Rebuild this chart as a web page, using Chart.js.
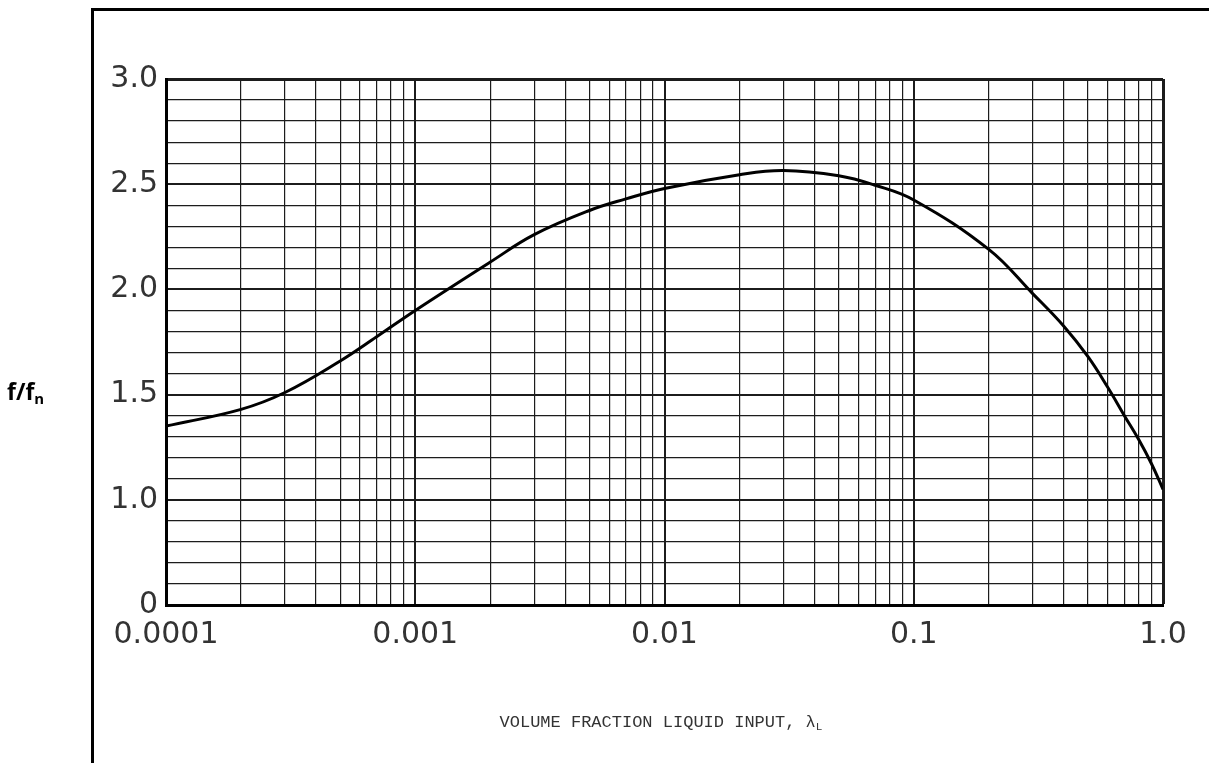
<!DOCTYPE html>
<html lang="en">
<head>
  <meta charset="UTF-8">
  <title>f/fn – volume fraction liquid input</title>
  <script src="https://cdn.jsdelivr.net/npm/chart.js"></script>
  <style>
    html, body {
      margin: 0;
      background: #fff;
    }
    body {
      width: 1209px;
      height: 763px;
      position: relative;
      overflow: hidden;
    }
    #frame {
      position: absolute;
      left: 91px;
      top: 8px;
      width: 1140px;
      height: 780px;
      border-left: 3px solid #000;
      border-top: 3px solid #000;
      pointer-events: none;
    }
    #ylabel {
      position: absolute;
      left: 7px;
      top: 380px;
      font: bold 23px "Open Sans", sans-serif;
      line-height: 23px;
    }
    #ylabel sub, #xlabel sub {
      font-size: 65%;
      vertical-align: -0.3em;
    }
    #xlabel {
      position: absolute;
      left: 0;
      width: 1322px;
      top: 714px;
      text-align: center;
      font: 17px "Liberation Mono", monospace;
      line-height: 17px;
      color: #333;
    }
    canvas {
      position: absolute;
      left: 0;
      top: 0;
    }
  </style>
</head>
<body>
  <canvas id="ratioChart" width="1209" height="763"></canvas>
  <div id="frame"></div>
  <div id="ylabel">f/f<sub>n</sub></div>
  <div id="xlabel">VOLUME FRACTION LIQUID INPUT, &lambda;<sub>L</sub></div>
  <script>
    // curve
    const liquidFraction = [0.0001, 0.0002, 0.0003, 0.0005, 0.0007, 0.001,
      0.002, 0.003, 0.005, 0.007, 0.01, 0.02, 0.03, 0.05, 0.07, 0.1,
      0.2, 0.3, 0.4, 0.5, 0.6, 0.7, 0.8, 0.9, 1.0];
    const freqRatio = [1.35, 1.43, 1.51, 1.66, 1.775, 1.90,
      2.13, 2.26, 2.375, 2.43, 2.48, 2.545, 2.565, 2.54, 2.495, 2.425,
      2.19, 1.98, 1.825, 1.68, 1.535, 1.40, 1.285, 1.17, 1.05];

    // x axis: labelled decades, grid at 1..9 of each decade
    const xTickValues = [0.0001, 0.001, 0.01, 0.1, 1];
    const xTickLabels = ['0.0001', '0.001', '0.01', '0.1', '1.0'];
    const minorSteps = [1, 2, 3, 4, 5, 6, 7, 8, 9];

    // y axis is broken below 1.0 in the original: the bottom line stands for 0
    const yTickValues = [0.5, 1.0, 1.5, 2.0, 2.5, 3.0];
    const yTickLabels = ['0', '1.0', '1.5', '2.0', '2.5', '3.0'];

    const xGrid = [];
    xTickValues.slice(0, -1).forEach(d => minorSteps.forEach(s => xGrid.push(+(d * s).toPrecision(3))));
    xGrid.push(1);
    const yGrid = [];
    for (let i = 0; i <= 25; i++) yGrid.push(+(0.5 + i * 0.1).toFixed(1));

    const near = (a, b) => Math.abs(a - b) < 1e-6 * Math.max(1, Math.abs(b));
    const findIdx = (arr, v) => arr.findIndex(t => near(v, t));
    const ink = '#1c1c1c';
    const tickFont = { family: '"DejaVu Sans", sans-serif', size: 30 };

    new Chart(document.getElementById('ratioChart'), {
      type: 'line',
      data: {
        datasets: [{
          data: liquidFraction.map((x, i) => ({ x: x, y: freqRatio[i] })),
          borderColor: '#000',
          borderWidth: 3,
          pointRadius: 0,
          tension: 0.4,
          fill: false
        }]
      },
      options: {
        responsive: false,
        animation: false,
        layout: { padding: { left: 100, top: 79, right: 46, bottom: 98 } },
        plugins: { legend: { display: false }, tooltip: { enabled: false } },
        scales: {
          x: {
            type: 'logarithmic',
            min: 0.0001,
            max: 1,
            afterBuildTicks: s => { s.ticks = xGrid.map(v => ({ value: v })); },
            afterFit: s => { s.height = 60; },
            border: { display: true, color: '#000', width: 3 },
            grid: {
              color: ink,
              drawTicks: false,
              lineWidth: c => {
                const v = c.tick.value;
                if (near(v, 1)) return 3;
                return findIdx(xTickValues, v) >= 0 ? 2 : 1.2;
              }
            },
            ticks: {
              autoSkip: false,
              maxRotation: 0,
              minRotation: 0,
              padding: 12,
              color: '#333',
              font: tickFont,
              callback: v => {
                const i = findIdx(xTickValues, v);
                return i >= 0 ? xTickLabels[i] : '';
              }
            }
          },
          y: {
            type: 'linear',
            min: 0.5,
            max: 3.0,
            afterBuildTicks: s => { s.ticks = yGrid.map(v => ({ value: v })); },
            afterFit: s => { s.width = 66; },
            ticks: {
              autoSkip: false,
              padding: 8,
              color: '#333',
              font: tickFont,
              callback: v => {
                const i = findIdx(yTickValues, v);
                return i >= 0 ? yTickLabels[i] : '';
              }
            },
            border: { display: true, color: '#000', width: 3 },
            grid: {
              color: ink,
              drawTicks: false,
              lineWidth: c => {
                const v = c.tick.value;
                if (near(v, 3.0)) return 3;
                return findIdx(yTickValues, v) >= 0 ? 2 : 1.2;
              }
            }
          }
        }
      }
    });
  </script>
</body>
</html>
